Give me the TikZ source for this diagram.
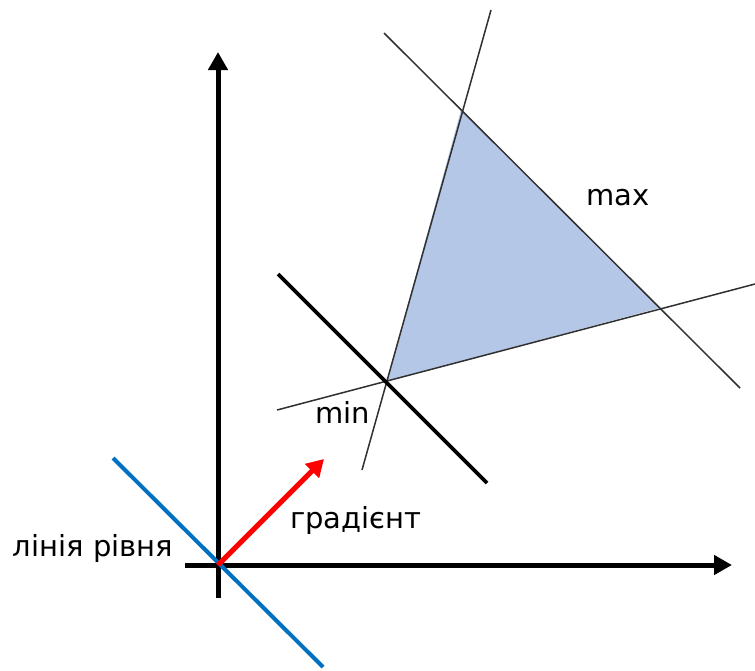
\documentclass[tikz,border=0pt]{standalone}
\usepackage{fontspec}
\setmainfont{DejaVu Sans}
\usetikzlibrary{arrows.meta}
\definecolor{regionfill}{HTML}{B4C7E7}
\definecolor{levelblue}{HTML}{0070C0}
\definecolor{thingray}{HTML}{303030}
\begin{document}
\begin{tikzpicture}[x=1pt,y=-1pt,
  axis/.style={line width=5pt,-{Triangle[length=18pt,width=19pt]}},
  thinline/.style={line width=1.5pt,thingray},
  lbl/.style={font=\fontsize{29}{33}\selectfont,inner sep=0pt}]
\useasboundingbox (0,0) rectangle (755,670);
% key points
\coordinate (O) at (218,565);
\coordinate (A) at (461,110);
\coordinate (B) at (659,308);
\coordinate (C) at (387,381);
% region
\fill[regionfill] (A) -- (B) -- (C) -- cycle;
% constraint lines
\coordinate (ca1) at (491,10);
\coordinate (ca2) at (362,470);
\coordinate (ab1) at (384,33);
\coordinate (ab2) at (740,388);
\coordinate (cb1) at (277,410);
\coordinate (cb2) at (755,284);
\draw[thinline] (ca1) -- (ca2);
\draw[thinline] (ab1) -- (ab2);
\draw[thinline] (cb1) -- (cb2);
% level line through min
\coordinate (m1) at (278,274);
\coordinate (m2) at (487,483);
\draw[line width=3.8pt] (m1) -- (m2);
% axes
\coordinate (ys) at (218,598);
\coordinate (ye) at (218,52);
\coordinate (xs) at (185,565);
\coordinate (xe) at (732,565);
\draw[axis] (ys) -- (ye);
\draw[axis] (xs) -- (xe);
% level line through origin
\coordinate (b1) at (113,458);
\coordinate (b2) at (323,667);
\draw[levelblue,line width=4pt] (b1) -- (b2);
% gradient
\coordinate (g) at (324,459);
\draw[red,line width=5pt,-{Triangle[length=17pt,width=19pt]}] (O) -- (g);
% labels
\node[lbl] (tmax) at (618,198) {max};
\node[lbl] (tmin) at (343,412) {min};
\node[lbl] (tgrad) at (356,520) {градієнт};
\node[lbl] (tlev) at (93,548) {лінія рівня};
\end{tikzpicture}
\end{document}
